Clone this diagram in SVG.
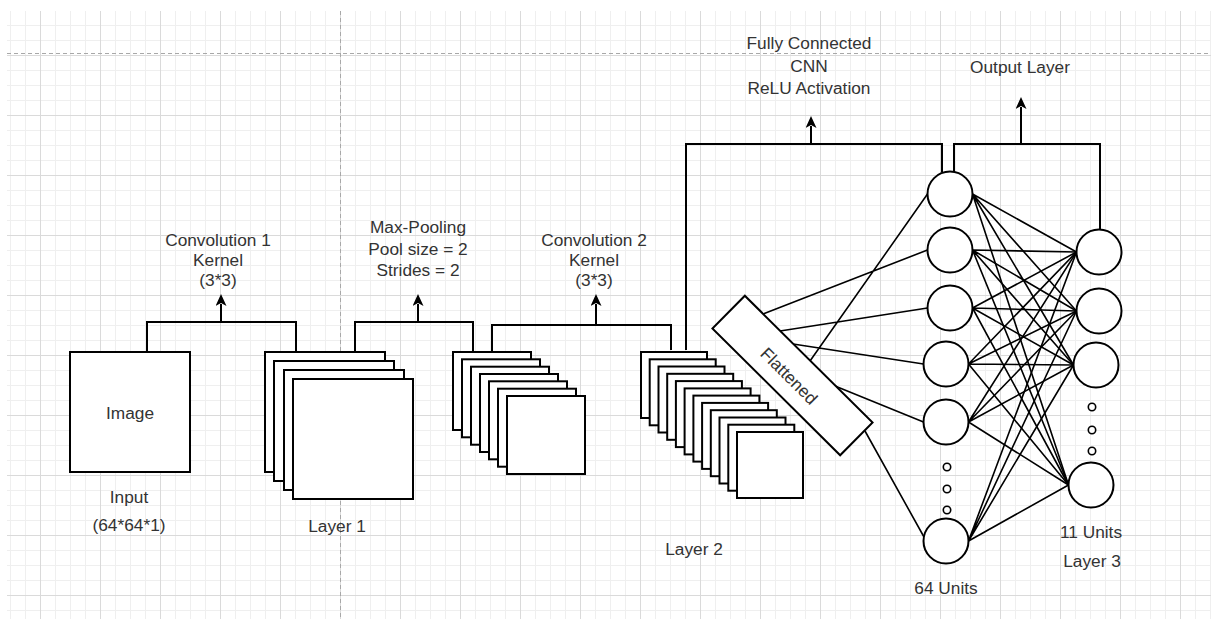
<svg xmlns="http://www.w3.org/2000/svg" width="1211" height="619" viewBox="0 0 1211 619">
<style>
.t{font-family:"Liberation Sans",Arial,sans-serif;font-size:17.3px;fill:#333;text-anchor:middle}
.box{fill:#fff;stroke:#000;stroke-width:2}
.ln{fill:none;stroke:#000;stroke-width:2}
.nn{fill:none;stroke:#000;stroke-width:1.6}
.dot{fill:#fff;stroke:#000;stroke-width:1.6}
</style>
<defs>
<pattern id="grid" x="40" y="55" width="60" height="60" patternUnits="userSpaceOnUse">
<path d="M15.5,0V60M30.5,0V60M45.5,0V60M0,15.5H60M0,30.5H60M0,45.5H60" stroke="#efefef" stroke-width="1" fill="none"/>
<path d="M0.5,0V60M0,0.5H60" stroke="#dadada" stroke-width="1" fill="none"/>
</pattern>
<marker id="arr" markerUnits="userSpaceOnUse" markerWidth="14" markerHeight="12" refX="2" refY="5.5" orient="auto" viewBox="0 0 14 12">
<path d="M0,0 L12,5.5 L0,11 L3,5.5 Z" fill="#000"/>
</marker>
</defs>
<rect width="1211" height="619" fill="#fff"/>
<rect x="7" y="11" width="1204" height="608" fill="url(#grid)"/>
<path d="M340.5,11V619M7,53.5H1211" stroke="#a8a8a8" stroke-width="1" stroke-dasharray="4,3" fill="none"/>

<g id="connectors">
<path class="ln" d="M147,352V322H296V352"/>
<path class="ln" d="M221,322V304" marker-end="url(#arr)"/>
<path class="ln" d="M355,352V322H473V352"/>
<path class="ln" d="M418,322V304" marker-end="url(#arr)"/>
<path class="ln" d="M492,352V325H671V350"/>
<path class="ln" d="M596,325V304" marker-end="url(#arr)"/>
<path class="ln" d="M686,350V144H942V172"/>
<path class="ln" d="M811,144V126" marker-end="url(#arr)"/>
<path class="ln" d="M954,172V144H1100V230"/>
<path class="ln" d="M1021,144V107" marker-end="url(#arr)"/>
<g class="nn">
<path d="M810,361L927.5,194M763,314L927.5,250M780,331L927.5,308M793,344L923.5,364M835,386L923.5,422M865,431L924,537"/>
<path d="M972.5,194L1076.5,252M972.5,194L1076.5,311M972.5,194L1073.5,365M972.5,194L1068.5,485"/>
<path d="M972.5,250L1076.5,252M972.5,250L1076.5,311M972.5,250L1073.5,365M972.5,250L1068.5,485"/>
<path d="M972.5,308L1076.5,252M972.5,308L1076.5,311M972.5,308L1073.5,365M972.5,308L1068.5,485"/>
<path d="M968.5,364L1076.5,252M968.5,364L1076.5,311M968.5,364L1073.5,365M968.5,364L1068.5,485"/>
<path d="M968.5,422L1076.5,252M968.5,422L1076.5,311M968.5,422L1073.5,365M968.5,422L1068.5,485"/>
<path d="M968.5,541L1076.5,252M968.5,541L1076.5,311M968.5,541L1073.5,365M968.5,541L1068.5,485"/>
</g>
</g>

<g id="input">
<rect class="box" x="70" y="352" width="120" height="120"/>
<text class="t" x="130" y="419">Image</text>
<text class="t" x="129" y="503">Input</text>
<text class="t" x="129" y="531">(64*64*1)</text>
</g>

<g id="conv1-label">
<text class="t" x="218" y="246">Convolution 1</text>
<text class="t" x="218" y="265.5">Kernel</text>
<text class="t" x="218" y="286">(3*3)</text>
</g>

<g id="layer1">
<rect class="box" x="265" y="352" width="120" height="120"/>
<rect class="box" x="274" y="361" width="120" height="120"/>
<rect class="box" x="284" y="370" width="120" height="120"/>
<rect class="box" x="293" y="379" width="120" height="120"/>
<text class="t" x="337" y="532">Layer 1</text>
</g>

<g id="maxpool-label">
<text class="t" x="418" y="233">Max-Pooling</text>
<text class="t" x="418" y="255">Pool size = 2</text>
<text class="t" x="418" y="275.5">Strides = 2</text>
</g>

<g id="pool">
<rect class="box" x="453" y="352" width="78" height="78"/>
<rect class="box" x="462" y="359.3" width="78" height="78"/>
<rect class="box" x="471" y="366.7" width="78" height="78"/>
<rect class="box" x="480" y="374" width="78" height="78"/>
<rect class="box" x="489" y="381.3" width="78" height="78"/>
<rect class="box" x="498" y="388.7" width="78" height="78"/>
<rect class="box" x="507" y="396" width="78" height="78"/>
</g>

<g id="conv2-label">
<text class="t" x="594" y="246">Convolution 2</text>
<text class="t" x="594" y="265.5">Kernel</text>
<text class="t" x="594" y="286">(3*3)</text>
</g>

<g id="layer2">
<rect class="box" x="641" y="352" width="66" height="66"/>
<rect class="box" x="649.7" y="359.3" width="66" height="66"/>
<rect class="box" x="658.5" y="366.5" width="66" height="66"/>
<rect class="box" x="667.2" y="373.8" width="66" height="66"/>
<rect class="box" x="675.9" y="381.1" width="66" height="66"/>
<rect class="box" x="684.6" y="388.4" width="66" height="66"/>
<rect class="box" x="693.4" y="395.6" width="66" height="66"/>
<rect class="box" x="702.1" y="402.9" width="66" height="66"/>
<rect class="box" x="710.8" y="410.2" width="66" height="66"/>
<rect class="box" x="719.5" y="417.5" width="66" height="66"/>
<rect class="box" x="728.3" y="424.7" width="66" height="66"/>
<rect class="box" x="737" y="432" width="66" height="66"/>
<text class="t" x="694" y="555">Layer 2</text>
</g>

<g id="flattened">
<rect class="box" x="702.5" y="352.5" width="180" height="46" transform="rotate(44.8 792.5 375.5)"/>
<text class="t" transform="translate(789 376) rotate(45)" y="6">Flattened</text>
</g>

<g id="fc-label">
<text class="t" x="809" y="49">Fully Connected</text>
<text class="t" x="809" y="71.5">CNN</text>
<text class="t" x="809" y="94">ReLU Activation</text>
</g>

<g id="output-label">
<text class="t" x="1020" y="73">Output Layer</text>
</g>

<g id="hidden">
<circle class="box" cx="950" cy="194" r="22.5"/>
<circle class="box" cx="950" cy="250" r="22.5"/>
<circle class="box" cx="950" cy="308" r="22.5"/>
<circle class="box" cx="946" cy="364" r="22.5"/>
<circle class="box" cx="946" cy="422" r="22.5"/>
<circle class="dot" cx="947" cy="467" r="3.7"/>
<circle class="dot" cx="947" cy="489" r="3.7"/>
<circle class="dot" cx="947" cy="510" r="3.7"/>
<circle class="box" cx="946" cy="541" r="22.5"/>
<text class="t" x="946" y="594">64 Units</text>
</g>

<g id="output">
<circle class="box" cx="1099" cy="252" r="22.5"/>
<circle class="box" cx="1099" cy="311" r="22.5"/>
<circle class="box" cx="1096" cy="365" r="22.5"/>
<circle class="dot" cx="1092" cy="407" r="3.7"/>
<circle class="dot" cx="1092" cy="430" r="3.7"/>
<circle class="dot" cx="1092" cy="451" r="3.7"/>
<circle class="box" cx="1091" cy="485" r="22.5"/>
<text class="t" x="1091" y="538">11 Units</text>
<text class="t" x="1092" y="567">Layer 3</text>
</g>
</svg>
